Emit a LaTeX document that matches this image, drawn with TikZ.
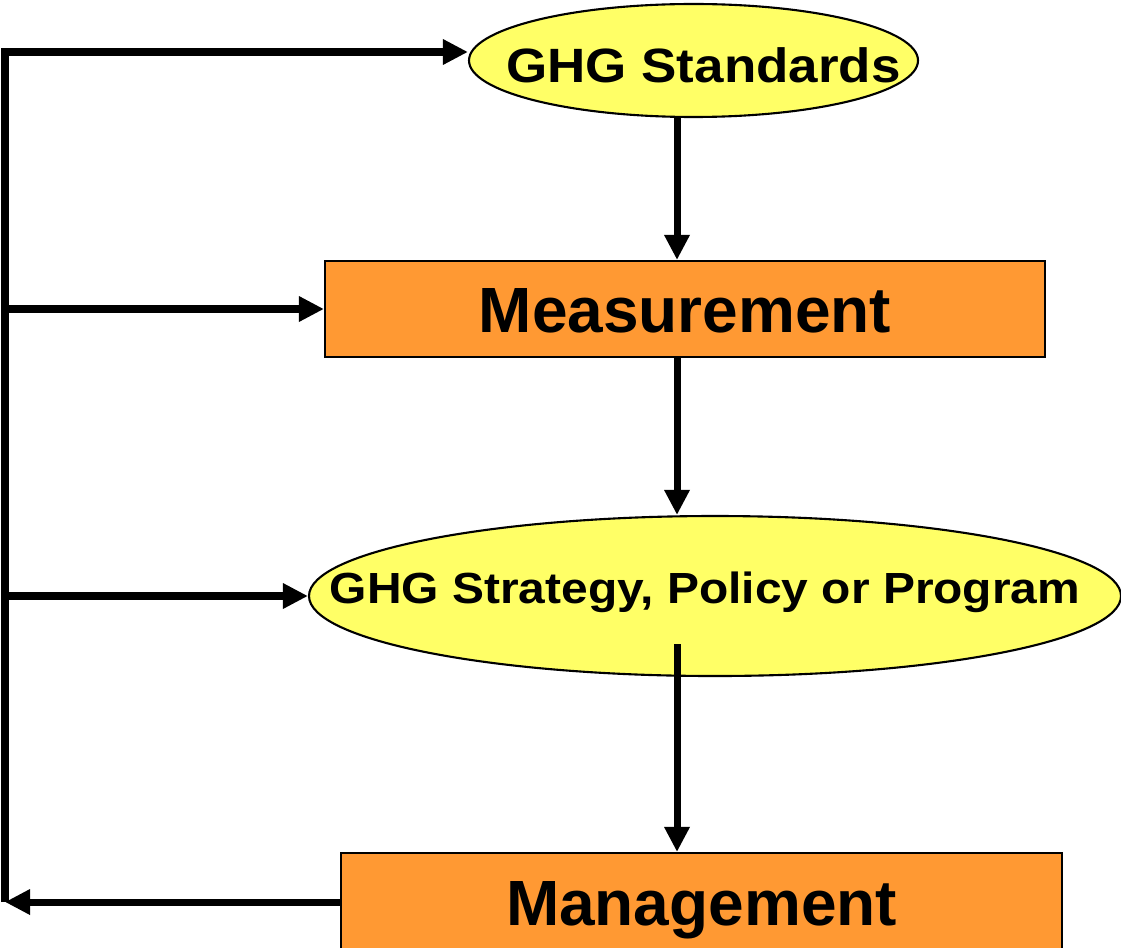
\documentclass[tikz,border=0pt]{standalone}
\usepackage{fontspec}
\setmainfont{Liberation Sans}
\newfontfamily\widefont[FakeStretch=1.1]{Liberation Sans}
\usetikzlibrary{arrows.meta,calc,shapes.geometric}
\definecolor{ovalfill}{RGB}{255,255,102}
\definecolor{boxfill}{RGB}{255,153,51}

\begin{document}
\begin{tikzpicture}[
		oval/.style={draw=black, line width=0.6pt, fill=ovalfill, ellipse, inner sep=0pt},
		box/.style={draw=black, line width=0.6pt, fill=boxfill, rectangle, inner sep=0pt,
			text height=0.46cm, text depth=0pt,
			font=\fontsize{18.2}{22}\selectfont\bfseries},
		flow/.style={line width=2pt, -{Triangle[length=0.25cm, width=0.24cm]}}
	]
		%%%%% START %%%%%
		\useasboundingbox (0, 0) rectangle (11.21, -9.47);
		
		\node[oval, minimum width=4.49cm, minimum height=1.13cm,
			label={[font=\widefont\fontsize{13.7}{16}\selectfont\bfseries, xshift=0.1cm, yshift=-0.05cm]center:GHG Standards}]
			(standards) at (6.935, -0.605) {};
		\node[box, minimum width=7.2cm, minimum height=0.96cm] (measure) at (6.85, -3.09) {Measurement};
		\node[oval, minimum width=8.12cm, minimum height=1.6cm,
			label={[font=\widefont\fontsize{12.4}{15}\selectfont\bfseries, xshift=-0.1cm, yshift=0.04cm]center:GHG Strategy, Policy or Program}]
			(strategy) at (7.15, -5.96) {};
		\node[box, minimum width=7.21cm, minimum height=0.98cm] (manage) at (7.015, -9.02) {Management};
		
		\coordinate (spine) at (6.77, 0);
		\coordinate (trunk) at (0.05, -0.52);
		
		\draw[flow] (standards.south -| spine) -- (measure.north -| spine);
		\draw[flow] (measure.south -| spine) -- (strategy.north -| spine);
		\draw[flow] ($(strategy.center -| spine)+(0, -0.48)$) -- (manage.north -| spine);
		
		\draw[flow] (manage.west) -- (manage.west -| trunk);
		\draw[flow] (manage.west -| trunk) -- (trunk) -- (trunk -| standards.west);
		\draw[flow] (trunk |- measure.west) -- (measure.west);
		\draw[flow] (trunk |- strategy.west) -- (strategy.west);
		
		%%%%% END %%%%%
	\end{tikzpicture}
\end{document}
